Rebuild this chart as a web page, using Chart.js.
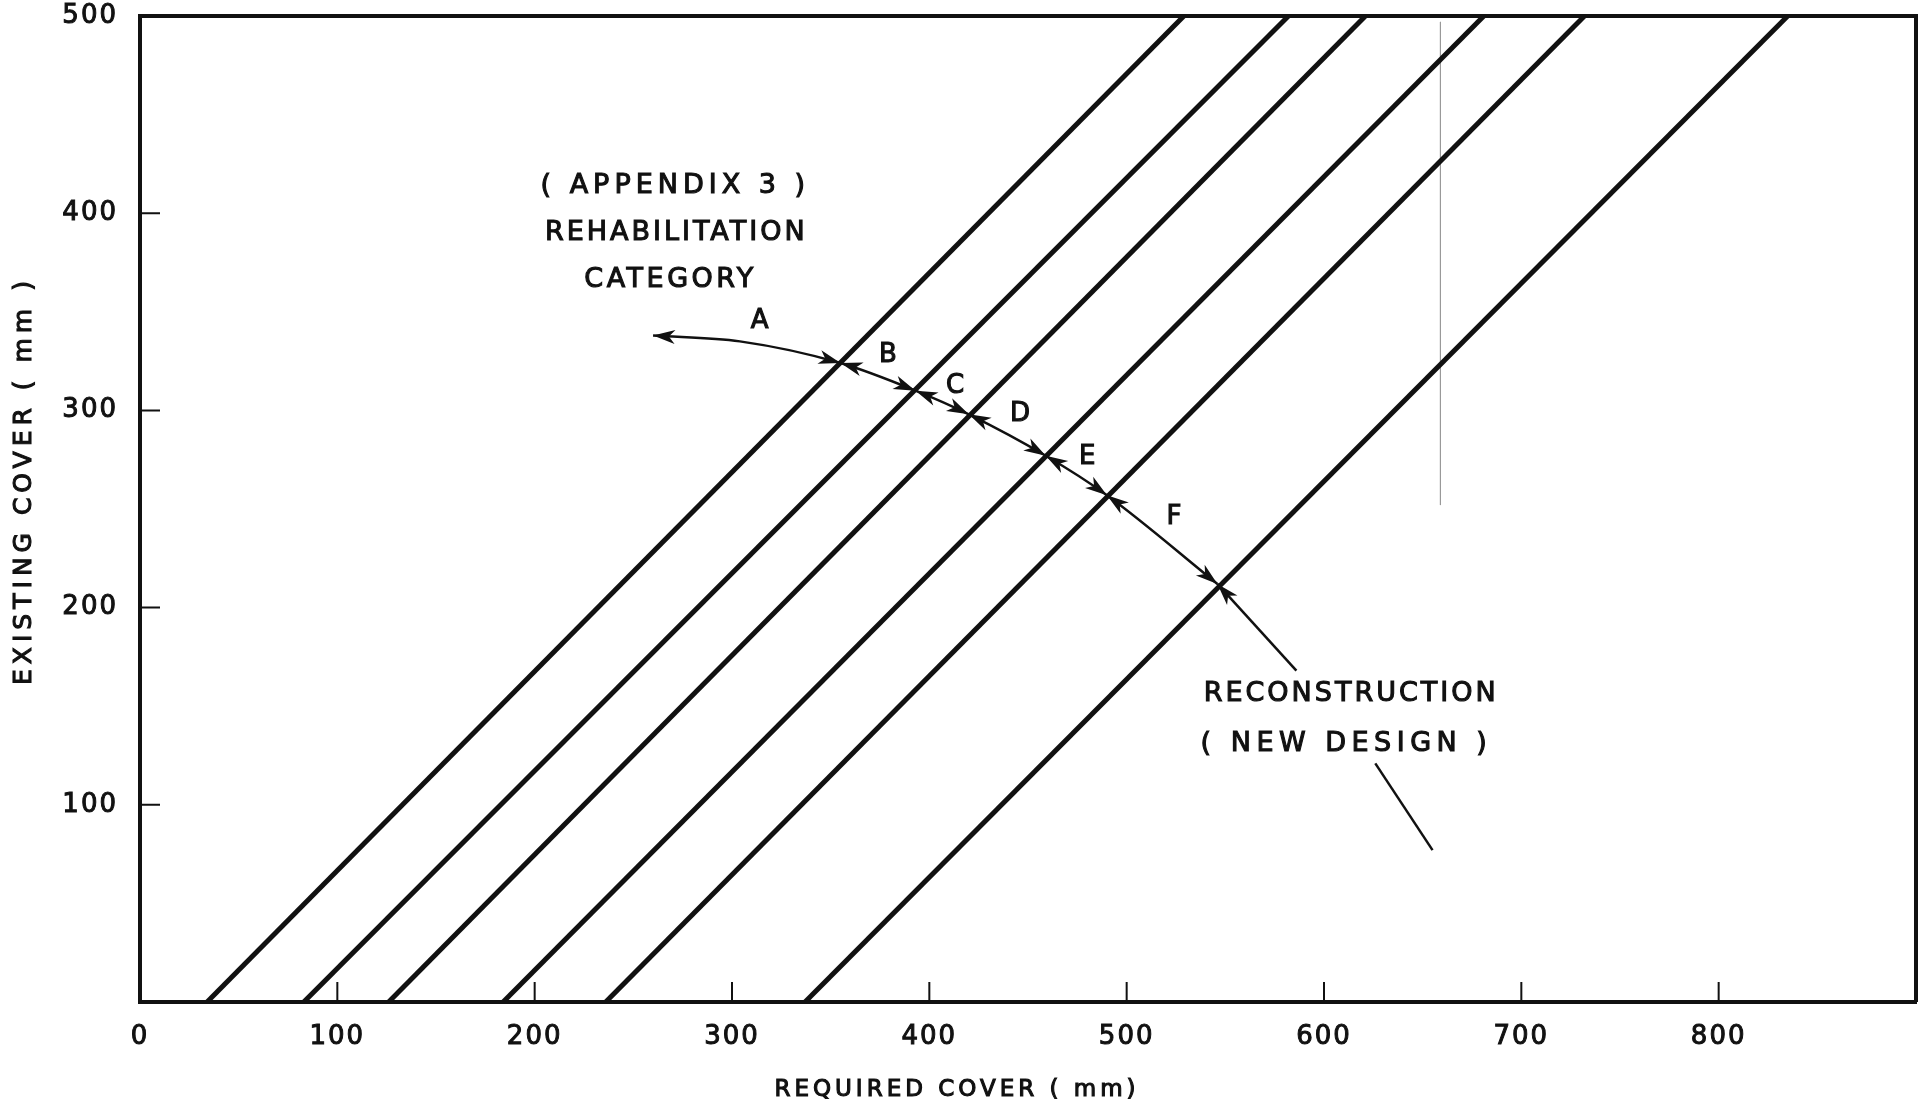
<!DOCTYPE html>
<html>
<head>
<meta charset="utf-8">
<title>Required vs existing cover</title>
<script src="https://cdn.jsdelivr.net/npm/chart.js@4.4.1/dist/chart.umd.min.js"></script>
<style>
  html, body { margin: 0; padding: 0; background: #ffffff; }
  canvas { display: block; }
</style>
</head>
<body>
<canvas id="chart" width="1926" height="1111"></canvas>
<script>
// Boundaries between rehabilitation categories (required cover, mm)
const categories = ["A", "B", "C", "D", "E", "F"];
const boundaryAtZero = [34, 83, 126, 184, 236, 337]; // where existing cover = 0
const boundaryAt500 = [529, 582, 621, 681, 732, 835]; // where existing cover = 500

// Curved dimension arrow that crosses the boundaries
const arcX = [260, 304, 355, 393, 420, 459, 490, 546];
const arcY = [338, 335, 324, 310, 298, 277, 257, 212];
const arcNodes = [0, 2, 3, 4, 5, 6, 7]; // points that carry arrowheads

// Reconstruction pointer and the leader below its label
const reconX = [546, 586];
const reconY = [212, 168];
const leaderX = [626, 655];
const leaderY = [121, 77];

// faint vertical mark on the sheet
const markX = [659, 659];
const markY = [497, 252];

const xTicks = [0, 100, 200, 300, 400, 500, 600, 700, 800];
const yTicks = [100, 200, 300, 400, 500];

// text placed in data units
const catLabelX = [314, 379, 413, 446, 480, 524];
const catLabelY = [345, 328, 312, 298, 276, 246];

const notes = [
  { text: "( APPENDIX 3 )", x: 270, y: 414, sp: 5 },
  { text: "REHABILITATION", x: 271, y: 390, sp: 3 },
  { text: "CATEGORY", x: 268, y: 366, sp: 3.5 },
  { text: "RECONSTRUCTION", x: 613, y: 156, sp: 3 },
  { text: "( NEW DESIGN )", x: 610, y: 131, sp: 5.5 },
];

const ink = "#111111";
const FONT = "'DejaVu Sans', sans-serif";

function pts(xs, ys) {
  return xs.map((v, i) => ({ x: v, y: ys[i] }));
}

const datasets = [];

categories.forEach((c, i) => {
  datasets.push({
    label: "Boundary " + c,
    data: [
      { x: boundaryAtZero[i], y: 0 },
      { x: boundaryAt500[i], y: 500 },
    ],
    showLine: true,
    borderColor: ink,
    borderWidth: 5,
    pointRadius: 0,
  });
});

datasets.push({
  label: "Categories",
  data: pts(arcX, arcY),
  showLine: true,
  borderColor: ink,
  borderWidth: 2.5,
  pointRadius: 0,
  cubicInterpolationMode: "monotone",
  arrowNodes: arcNodes,
});

datasets.push({
  label: "Reconstruction",
  data: pts(reconX, reconY),
  showLine: true,
  borderColor: ink,
  borderWidth: 2.5,
  pointRadius: 0,
  arrowStart: true,
});

datasets.push({
  label: "Leader",
  data: pts(leaderX, leaderY),
  showLine: true,
  borderColor: ink,
  borderWidth: 2.5,
  pointRadius: 0,
});

datasets.push({
  label: "Mark",
  data: pts(markX, markY),
  showLine: true,
  borderColor: "#9a9a9a",
  borderWidth: 1,
  pointRadius: 0,
});

// arrowhead with a small notch, tip at (tx, ty), coming from (fx, fy)
function arrowHead(ctx, tx, ty, fx, fy) {
  const a = Math.atan2(ty - fy, tx - fx);
  const L = 22, W = 7;
  ctx.save();
  ctx.translate(tx, ty);
  ctx.rotate(a);
  ctx.beginPath();
  ctx.moveTo(0, 0);
  ctx.lineTo(-L, W);
  ctx.lineTo(-L * 0.72, 0);
  ctx.lineTo(-L, -W);
  ctx.closePath();
  ctx.fill();
  ctx.restore();
}

const arrowPlugin = {
  id: "arrows",
  afterDatasetsDraw(chart) {
    const ctx = chart.ctx;
    ctx.save();
    ctx.fillStyle = ink;
    chart.data.datasets.forEach((ds, di) => {
      const p = chart.getDatasetMeta(di).data;
      if (ds.arrowNodes) {
        const last = p.length - 1;
        for (const i of ds.arrowNodes) {
          const pt = p[i];
          if (i > 0) {
            let fx = pt.cp1x, fy = pt.cp1y;
            if (fx === undefined || Math.hypot(pt.x - fx, pt.y - fy) < 1) {
              fx = p[i - 1].x; fy = p[i - 1].y;
            }
            arrowHead(ctx, pt.x, pt.y, fx, fy);
          }
          if (i < last) {
            let fx = pt.cp2x, fy = pt.cp2y;
            if (fx === undefined || Math.hypot(pt.x - fx, pt.y - fy) < 1) {
              fx = p[i + 1].x; fy = p[i + 1].y;
            }
            arrowHead(ctx, pt.x, pt.y, fx, fy);
          }
        }
      }
      if (ds.arrowStart) {
        arrowHead(ctx, p[0].x, p[0].y, p[1].x, p[1].y);
      }
    });
    ctx.restore();
  },
};

const notePlugin = {
  id: "notes",
  afterDraw(chart) {
    const { ctx, chartArea, scales: { x, y } } = chart;
    ctx.save();

    // top and right edges of the frame
    ctx.strokeStyle = ink;
    ctx.lineWidth = 4;
    ctx.beginPath();
    ctx.moveTo(chartArea.left, chartArea.top);
    ctx.lineTo(chartArea.right, chartArea.top);
    ctx.lineTo(chartArea.right, chartArea.bottom);
    ctx.stroke();

    // tick marks point into the plot
    ctx.lineWidth = 2;
    ctx.beginPath();
    for (const v of xTicks) {
      if (v === 0) continue;
      const px = x.getPixelForValue(v);
      ctx.moveTo(px, chartArea.bottom);
      ctx.lineTo(px, chartArea.bottom - 20);
    }
    for (const v of yTicks) {
      if (v === 500) continue;
      const py = y.getPixelForValue(v);
      ctx.moveTo(chartArea.left, py);
      ctx.lineTo(chartArea.left + 20, py);
    }
    ctx.stroke();

    ctx.fillStyle = ink;
    ctx.strokeStyle = ink;
    ctx.lineWidth = 1.1;
    ctx.textAlign = "center";
    ctx.textBaseline = "middle";

    const put = (text, px, py, font, sp) => {
      ctx.font = font;
      ctx.letterSpacing = sp + "px";
      ctx.fillText(text, px + sp / 2, py);
      ctx.strokeText(text, px + sp / 2, py);
    };

    for (const n of notes) {
      put(n.text, x.getPixelForValue(n.x), y.getPixelForValue(n.y), "27px " + FONT, n.sp);
    }
    categories.forEach((c, i) => {
      put(c, x.getPixelForValue(catLabelX[i]), y.getPixelForValue(catLabelY[i]), "26px " + FONT, 0);
    });

    // axis titles
    put("REQUIRED COVER ( mm)", x.getPixelForValue(413), chartArea.bottom + 88, "23px " + FONT, 4);

    ctx.save();
    ctx.translate(chartArea.left - 116, (chartArea.top + chartArea.bottom) / 2 - 26);
    ctx.rotate(-Math.PI / 2);
    put("EXISTING COVER ( mm )", 0, 0, "25px " + FONT, 5);
    ctx.restore();

    ctx.restore();
  },
};

const spacingPlugin = {
  id: "spacing",
  beforeDraw(chart) {
    chart.ctx.letterSpacing = "2px";
  },
  afterDraw(chart) {
    chart.ctx.letterSpacing = "0px";
  },
};

const tickFont = { family: FONT, size: 26 };

new Chart(document.getElementById("chart"), {
  type: "scatter",
  data: { datasets },
  options: {
    responsive: false,
    animation: false,
    events: [],
    layout: { padding: { top: 16, right: 10, left: 0, bottom: 0 } },
    plugins: {
      legend: { display: false },
      tooltip: { enabled: false },
    },
    scales: {
      x: {
        type: "linear",
        min: 0,
        max: 900,
        afterFit(scale) {
          scale.height = 109;
          scale.paddingLeft = 0;
          scale.paddingRight = 0;
        },
        afterBuildTicks(scale) {
          scale.ticks = xTicks.map((v) => ({ value: v }));
        },
        grid: { display: false, drawTicks: false },
        border: { display: true, color: ink, width: 4 },
        ticks: {
          color: ink,
          padding: 20,
          maxRotation: 0,
          autoSkip: false,
          font: tickFont,
          textStrokeColor: ink,
          textStrokeWidth: 1,
        },
      },
      y: {
        type: "linear",
        min: 0,
        max: 500,
        afterFit(scale) {
          scale.width = 140;
          scale.paddingTop = 0;
          scale.paddingBottom = 0;
        },
        afterBuildTicks(scale) {
          scale.ticks = yTicks.map((v) => ({ value: v }));
        },
        grid: { display: false, drawTicks: false },
        border: { display: true, color: ink, width: 4 },
        ticks: {
          color: ink,
          padding: 22,
          font: tickFont,
          textStrokeColor: ink,
          textStrokeWidth: 1,
        },
      },
    },
  },
  plugins: [spacingPlugin, arrowPlugin, notePlugin],
});
</script>
</body>
</html>
